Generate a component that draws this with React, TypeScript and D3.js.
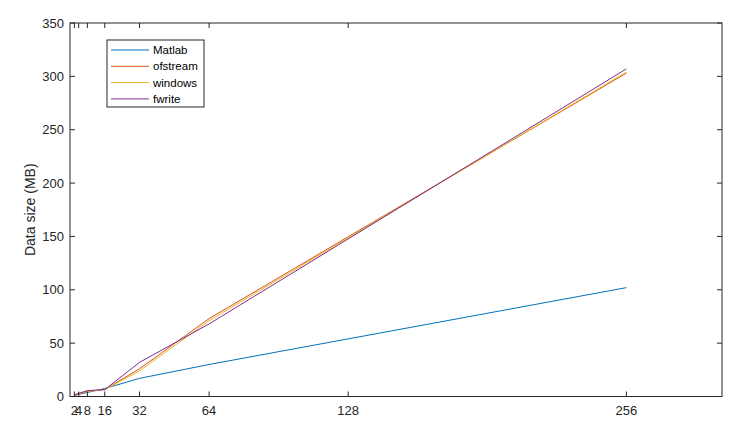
import React from "react";
import * as d3 from "d3";

const sizes = [2, 4, 8, 16, 32, 64, 256];
const matlab = [1, 2, 3.8, 7.5, 17, 30, 102];
const ofstream = [1.2, 2.5, 4.8, 6.5, 26, 73, 303];
const windows = [1.2, 2.5, 4.8, 6.5, 24, 71, 304];
const fwrite = [1.5, 3, 5.5, 6.5, 32, 68, 307];
const seriesNames = ["Matlab", "ofstream", "windows", "fwrite"];
const seriesColors = ["#0072BD", "#D95319", "#EDB120", "#7E2F8E"];
const xTicks = [2, 4, 8, 16, 32, 64, 128, 256];
const yTicks = [0, 50, 100, 150, 200, 250, 300, 350];

export default function App() {
  const W = 752, H = 437;
  const left = 70, right = 722, top = 23, bottom = 396.5;
  const x = d3.scaleLinear().domain([0, 300]).range([left, right]);
  const y = d3.scaleLinear().domain([0, 350]).range([bottom, top]);
  const all = [matlab, ofstream, windows, fwrite];
  const line = d3.line<number>().x((_, i) => x(sizes[i])).y((d) => y(d));
  const font = "'Liberation Sans', Arial, sans-serif";
  const tc = "#262626";
  const tl = 5;
  return (
    <svg width={W} height={H} style={{ position: "absolute", left: 0, top: 0 }} fontFamily={font}>
      <rect x={0} y={0} width={W} height={H} fill="#fff" />
      {all.map((s, k) => (
        <path key={k} d={line(s) || ""} fill="none" stroke={seriesColors[k]} strokeWidth={1} />
      ))}
      <rect x={left} y={top} width={right - left} height={bottom - top} fill="none" stroke={tc} strokeWidth={1} />
      {xTicks.map((t) => (
        <g key={"x" + t}>
          <line x1={x(t)} x2={x(t)} y1={bottom} y2={bottom - tl} stroke={tc} />
          <line x1={x(t)} x2={x(t)} y1={top} y2={top + tl} stroke={tc} />
          <text x={x(t)} y={bottom + 18} fontSize={13} fill={tc} textAnchor="middle">{t}</text>
        </g>
      ))}
      {yTicks.map((t) => (
        <g key={"y" + t}>
          <line x1={left} x2={left + tl} y1={y(t)} y2={y(t)} stroke={tc} />
          <line x1={right} x2={right - tl} y1={y(t)} y2={y(t)} stroke={tc} />
          <text x={left - 6} y={y(t) + 4.5} fontSize={13} fill={tc} textAnchor="end">{t}</text>
        </g>
      ))}
      <text transform={`translate(35,${(top + bottom) / 2}) rotate(-90)`} fontSize={14} fill={tc} textAnchor="middle">Data size (MB)</text>
      <rect x={107} y={40} width={97} height={67} fill="#fff" stroke={tc} strokeWidth={1} />
      {seriesNames.map((n, k) => (
        <g key={n}>
          <line x1={111} x2={149} y1={50 + k * 16.3} y2={50 + k * 16.3} stroke={seriesColors[k]} />
          <text x={153} y={50 + k * 16.3 + 4} fontSize={11.5} fill="#000">{n}</text>
        </g>
      ))}
    </svg>
  );
}
